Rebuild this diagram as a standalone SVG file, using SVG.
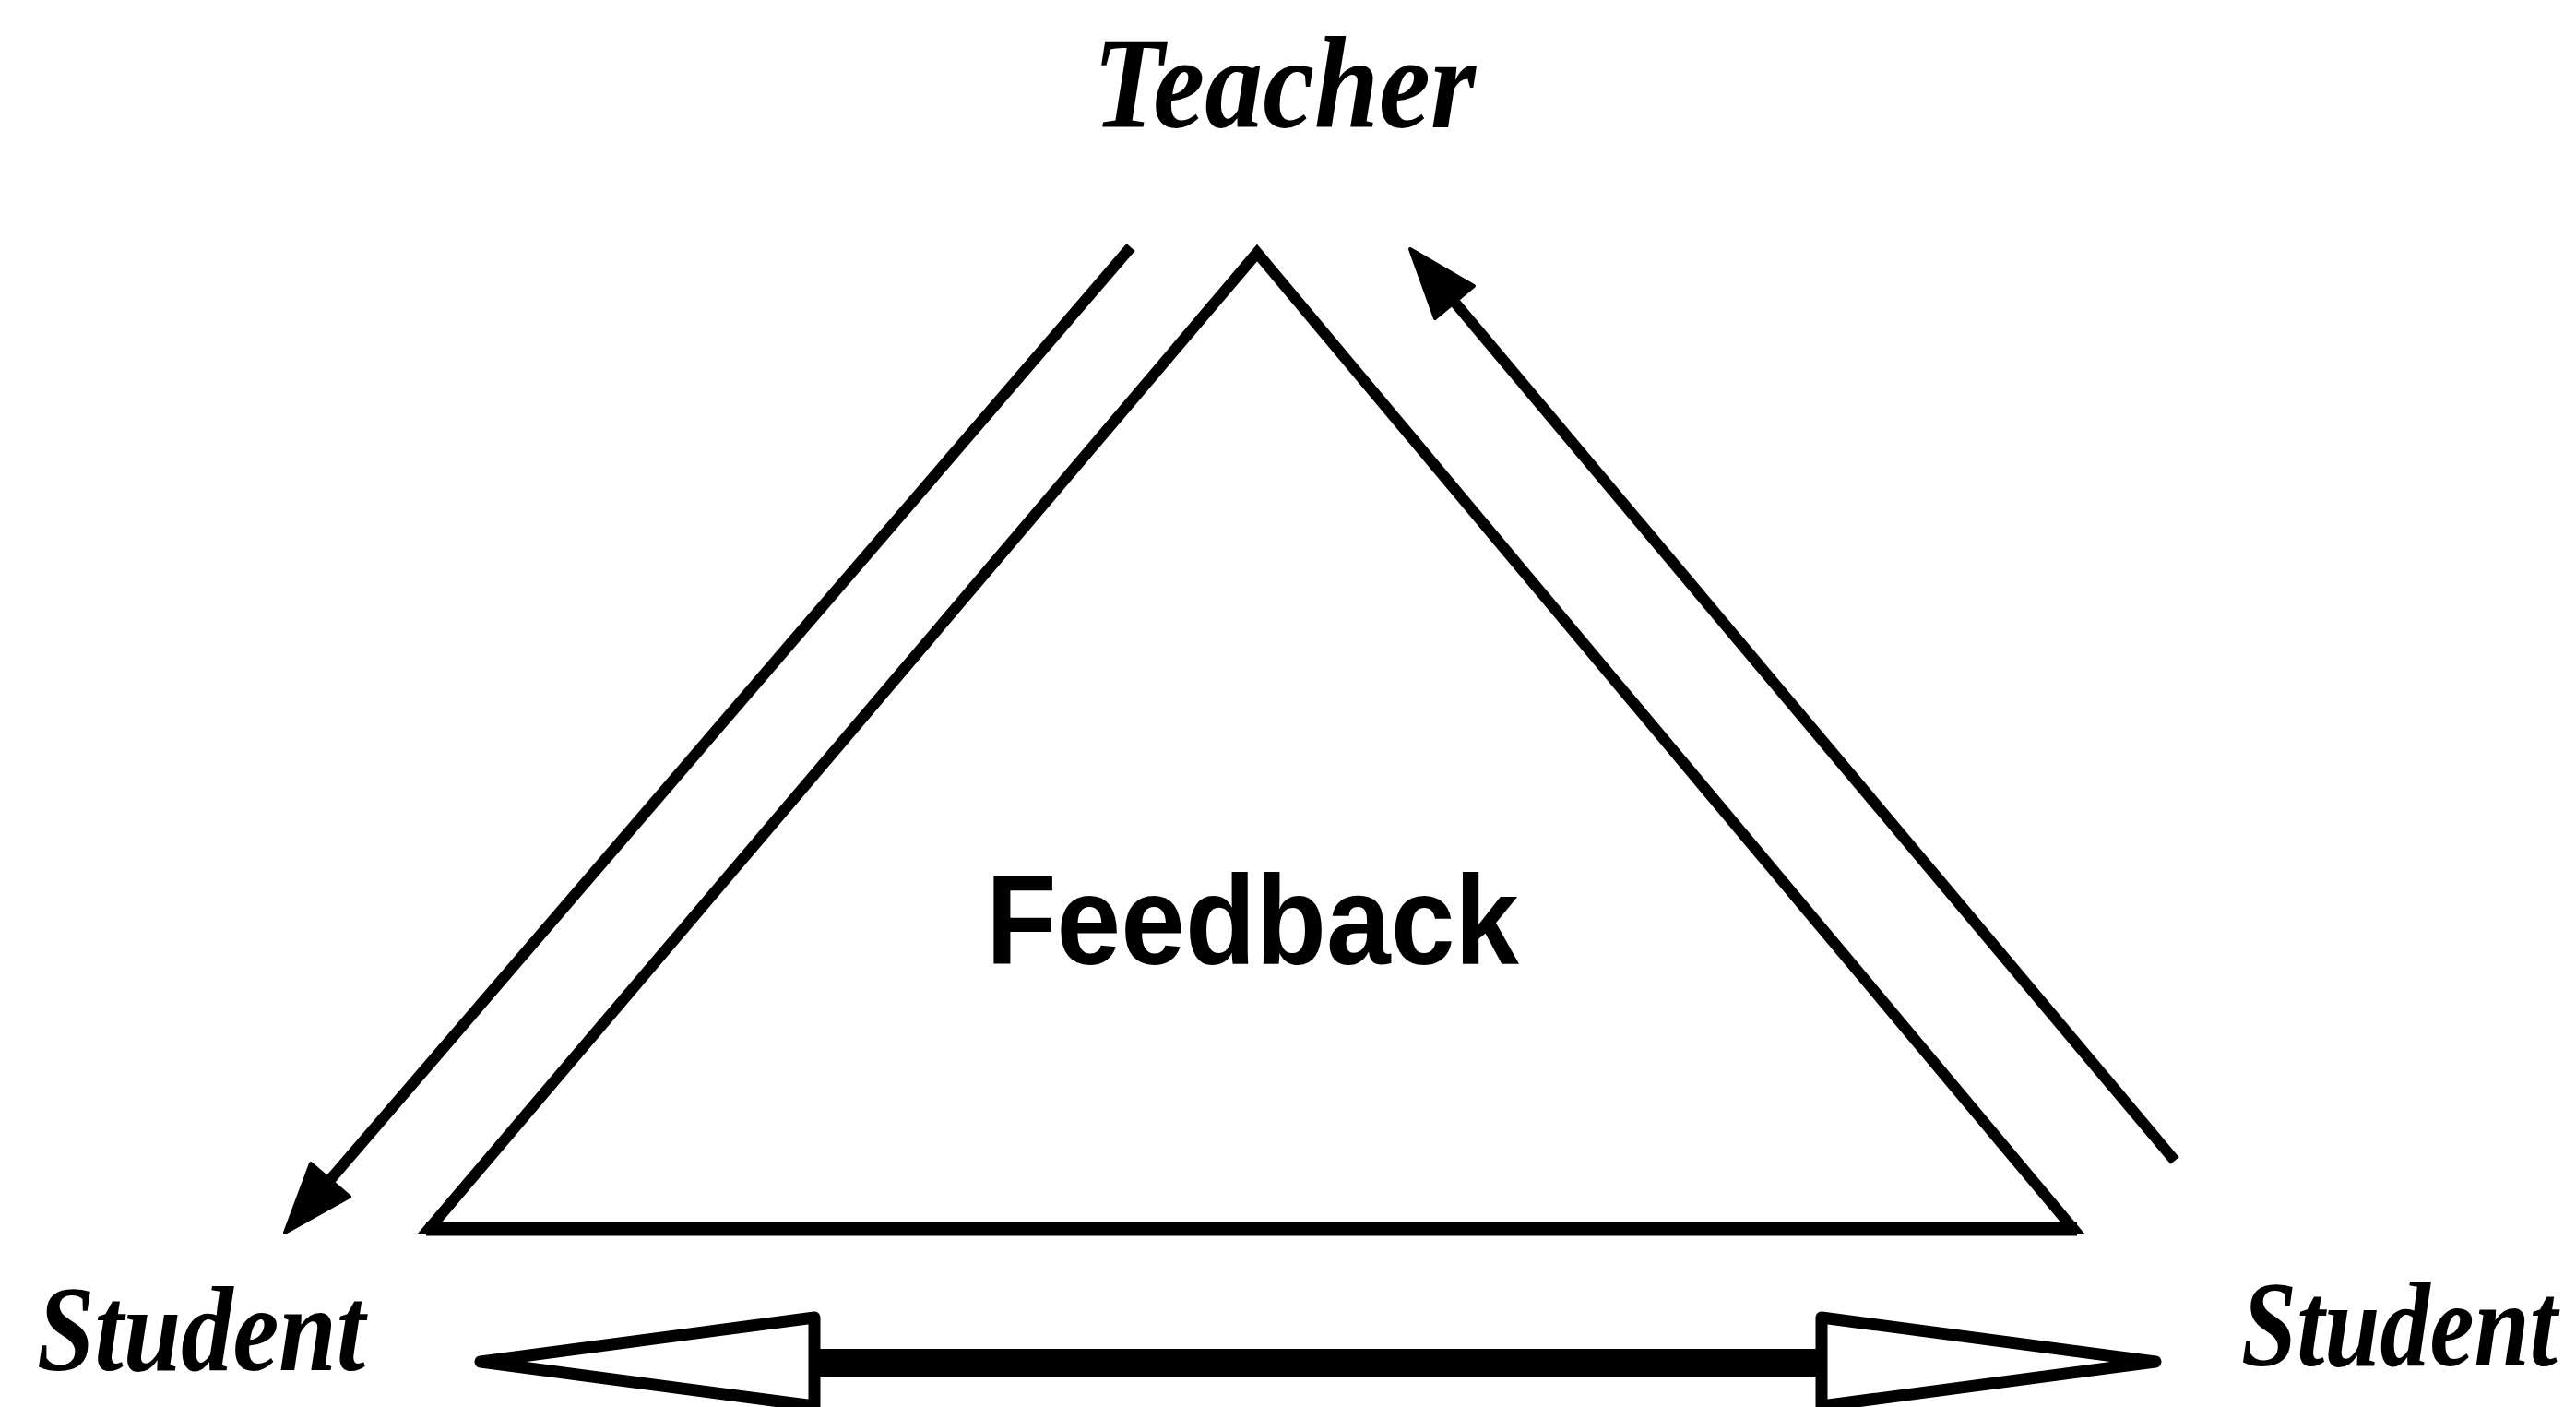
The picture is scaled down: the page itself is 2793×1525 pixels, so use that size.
<svg xmlns="http://www.w3.org/2000/svg" width="2793" height="1525" viewBox="0 0 2793 1525">
<style>
.lbl{font-family:"Liberation Serif","Times New Roman",serif;font-weight:bold;font-style:italic;fill:#000}
.fb{font-family:"Liberation Sans",Arial,sans-serif;font-weight:bold;fill:#000}
.ln{stroke:#000;stroke-width:12;fill:none;stroke-linecap:butt}
.head{fill:#fff;stroke:#000;stroke-width:13;stroke-linejoin:round}
</style>
<rect width="2793" height="1525" fill="#fff"/>
<g id="teacher"><text class="lbl" x="1185" y="138" font-size="142" textLength="415" lengthAdjust="spacingAndGlyphs">Teacher</text></g>
<g id="student-left"><text class="lbl" x="40" y="1485" font-size="132" textLength="356" lengthAdjust="spacingAndGlyphs">Student</text></g>
<g id="student-right"><text class="lbl" transform="translate(2430,1480) scale(0.82,1)" x="0" y="0" font-size="132">Student</text></g>
<g id="feedback">
<polygon points="1363,274 465,1332 2248,1332" fill="none" stroke="#000" stroke-width="12" stroke-linejoin="miter"/>
<line x1="462" y1="1332" x2="2252" y2="1332" stroke="#000" stroke-width="15"/>
<text class="fb" x="1069" y="1045" font-size="137" textLength="578" lengthAdjust="spacingAndGlyphs">Feedback</text>
</g>
<g id="connectors">
<line class="ln" x1="1226" y1="268" x2="350" y2="1288"/>
<polygon points="309,1336 379,1297 337,1261" fill="#000" stroke="#000" stroke-width="4" stroke-linejoin="round"/>
<line class="ln" x1="2358" y1="1258" x2="1570" y2="319"/>
<polygon points="1529,270 1598,310 1556,345" fill="#000" stroke="#000" stroke-width="4" stroke-linejoin="round"/>
<rect x="883" y="1462" width="1092" height="30" fill="#000"/>
<polygon class="head" points="521,1476 883,1428 883,1524"/>
<polygon class="head" points="2337,1476 1975,1428 1975,1524"/>
</g>
</svg>
